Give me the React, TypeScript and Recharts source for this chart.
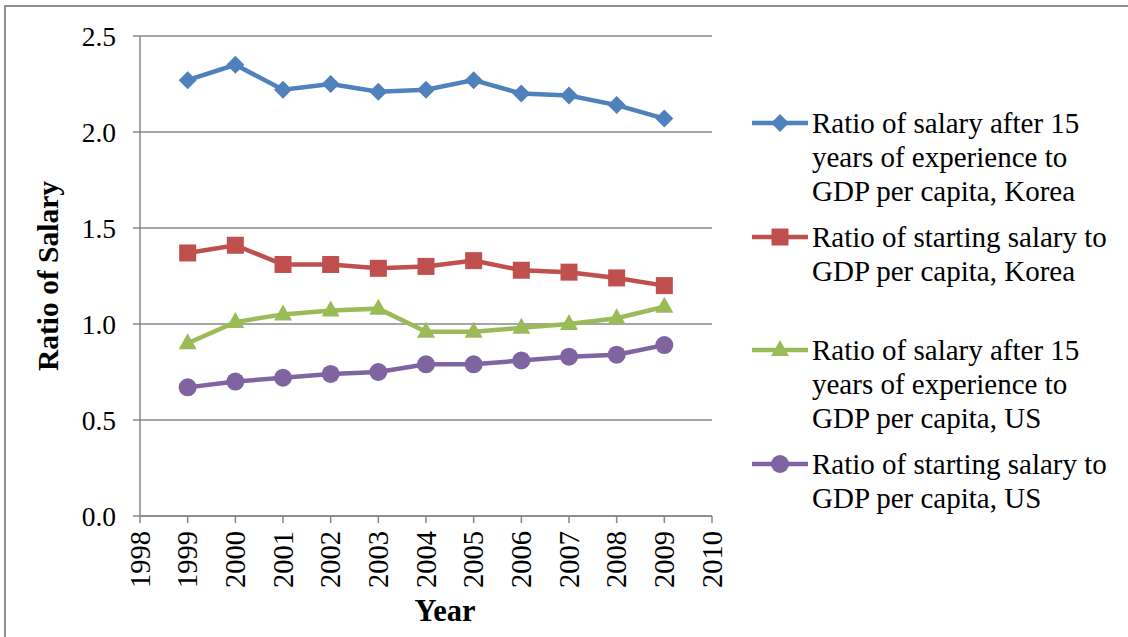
import React from 'react';
import { LineChart, Line, XAxis, YAxis, CartesianGrid, Legend } from 'recharts';

const FONT = '"Liberation Serif", "Times New Roman", serif';
const GRID = '#878787';

// years shown on the axis and the years that carry data
const axisYears = [1998, 1999, 2000, 2001, 2002, 2003, 2004, 2005, 2006, 2007, 2008, 2009, 2010];
const years = [1999, 2000, 2001, 2002, 2003, 2004, 2005, 2006, 2007, 2008, 2009];
const yTicks = [0, 0.5, 1, 1.5, 2, 2.5];

const koreaAfter15 = [2.27, 2.35, 2.22, 2.25, 2.21, 2.22, 2.27, 2.2, 2.19, 2.14, 2.07];
const koreaStarting = [1.37, 1.41, 1.31, 1.31, 1.29, 1.3, 1.33, 1.28, 1.27, 1.24, 1.2];
const usAfter15 = [0.9, 1.01, 1.05, 1.07, 1.08, 0.96, 0.96, 0.98, 1.0, 1.03, 1.09];
const usStarting = [0.67, 0.7, 0.72, 0.74, 0.75, 0.79, 0.79, 0.81, 0.83, 0.84, 0.89];

const legendLines = [
  ['Ratio of salary after 15', 'years of experience to', 'GDP per capita, Korea'],
  ['Ratio of starting salary to', 'GDP per capita, Korea'],
  ['Ratio of salary after 15', 'years of experience to', 'GDP per capita, US'],
  ['Ratio of starting salary to', 'GDP per capita, US'],
];

type Shape = 'diamond' | 'square' | 'triangle' | 'circle';

const series: { key: string; color: string; shape: Shape; values: number[] }[] = [
  { key: 'koreaAfter15', color: '#4F81BD', shape: 'diamond', values: koreaAfter15 },
  { key: 'koreaStarting', color: '#C0504D', shape: 'square', values: koreaStarting },
  { key: 'usAfter15', color: '#9BBB59', shape: 'triangle', values: usAfter15 },
  { key: 'usStarting', color: '#8064A2', shape: 'circle', values: usStarting },
];

const data = years.map((year, i) => {
  const row: Record<string, number> = { year };
  series.forEach((s) => {
    row[s.key] = s.values[i];
  });
  return row;
});

const Marker = ({ cx, cy, shape, color }: { cx: number; cy: number; shape: Shape; color: string }) => {
  if (cx == null || cy == null) return null;
  if (shape === 'diamond') {
    const r = 9;
    return <polygon points={`${cx},${cy - r} ${cx + r},${cy} ${cx},${cy + r} ${cx - r},${cy}`} fill={color} />;
  }
  if (shape === 'square') {
    return <rect x={cx - 8.5} y={cy - 8.5} width={17} height={17} fill={color} />;
  }
  if (shape === 'triangle') {
    return <polygon points={`${cx},${cy - 10} ${cx + 9},${cy + 6} ${cx - 9},${cy + 6}`} fill={color} />;
  }
  return <circle cx={cx} cy={cy} r={9} fill={color} />;
};

const YearTick = (props: any) => {
  const { x, y, payload } = props;
  return (
    <text
      x={x}
      y={y + 6}
      transform={`rotate(-90 ${x} ${y + 6})`}
      textAnchor="end"
      dominantBaseline="central"
      fontFamily={FONT}
      fontSize={28.5}
      fill="#000"
    >
      {payload.value}
    </text>
  );
};

const LegendList = () => (
  <div style={{ fontFamily: FONT, fontSize: 29, color: '#000' }}>
    {series.map((s, i) => (
      <div key={s.key} style={{ height: 113.5, display: 'flex', alignItems: 'flex-start' }}>
        <svg width={62} height={34} style={{ flex: 'none' }}>
          <line x1={2} y1={17} x2={58} y2={17} stroke={s.color} strokeWidth={4.5} />
          <Marker cx={30} cy={17} shape={s.shape} color={s.color} />
        </svg>
        <div style={{ lineHeight: '34px', whiteSpace: 'nowrap' }}>
          {legendLines[i].map((line) => (
            <div key={line}>{line}</div>
          ))}
        </div>
      </div>
    ))}
  </div>
);

export default function App() {
  return (
    <div style={{ position: 'fixed', left: 0, top: 0, width: 1128, height: 637, background: '#fff', overflow: 'hidden' }}>
      <div
        style={{
          position: 'absolute',
          left: 4,
          top: 5,
          width: 1200,
          height: 700,
          border: '2px solid #8f8f8f',
        }}
      />
      <div style={{ position: 'absolute', left: 0, top: 0 }}>
        <LineChart width={1128} height={637} data={data} margin={{ top: 36, right: 416, bottom: 0, left: 0 }}>
          <CartesianGrid vertical={false} stroke={GRID} strokeWidth={1.5} />
          <XAxis
            dataKey="year"
            type="number"
            domain={[1998, 2010]}
            ticks={axisYears}
            interval={0}
            height={121}
            stroke={GRID}
            strokeWidth={1.5}
            tickSize={7}
            tick={<YearTick />}
            label={{
              value: 'Year',
              position: 'insideBottom',
              offset: 16,
              dx: 19,
              style: { fontFamily: FONT, fontSize: 30.5, fontWeight: 'bold', fill: '#000' },
            }}
          />
          <YAxis
            domain={[0, 2.5]}
            ticks={yTicks}
            width={140}
            stroke={GRID}
            strokeWidth={1.5}
            tickSize={7}
            tickMargin={17}
            tickFormatter={(v: number) => v.toFixed(1)}
            tick={{ fontFamily: FONT, fontSize: 27.5, fill: '#000' }}
            label={{
              value: 'Ratio of Salary',
              angle: -90,
              position: 'insideLeft',
              offset: 48,
              style: { fontFamily: FONT, fontSize: 29.5, fontWeight: 'bold', fill: '#000', textAnchor: 'middle' },
            }}
          />
          <Legend
            layout="vertical"
            align="center"
            verticalAlign="middle"
            width={380}
            wrapperStyle={{ left: 750, top: 106 }}
            content={<LegendList />}
          />
          {series.map((s) => (
            <Line
              key={s.key}
              dataKey={s.key}
              stroke={s.color}
              strokeWidth={4.5}
              isAnimationActive={false}
              dot={(p: any) => <Marker key={`${s.key}-${p.index}`} cx={p.cx} cy={p.cy} shape={s.shape} color={s.color} />}
              activeDot={false}
            />
          ))}
        </LineChart>
      </div>
    </div>
  );
}
